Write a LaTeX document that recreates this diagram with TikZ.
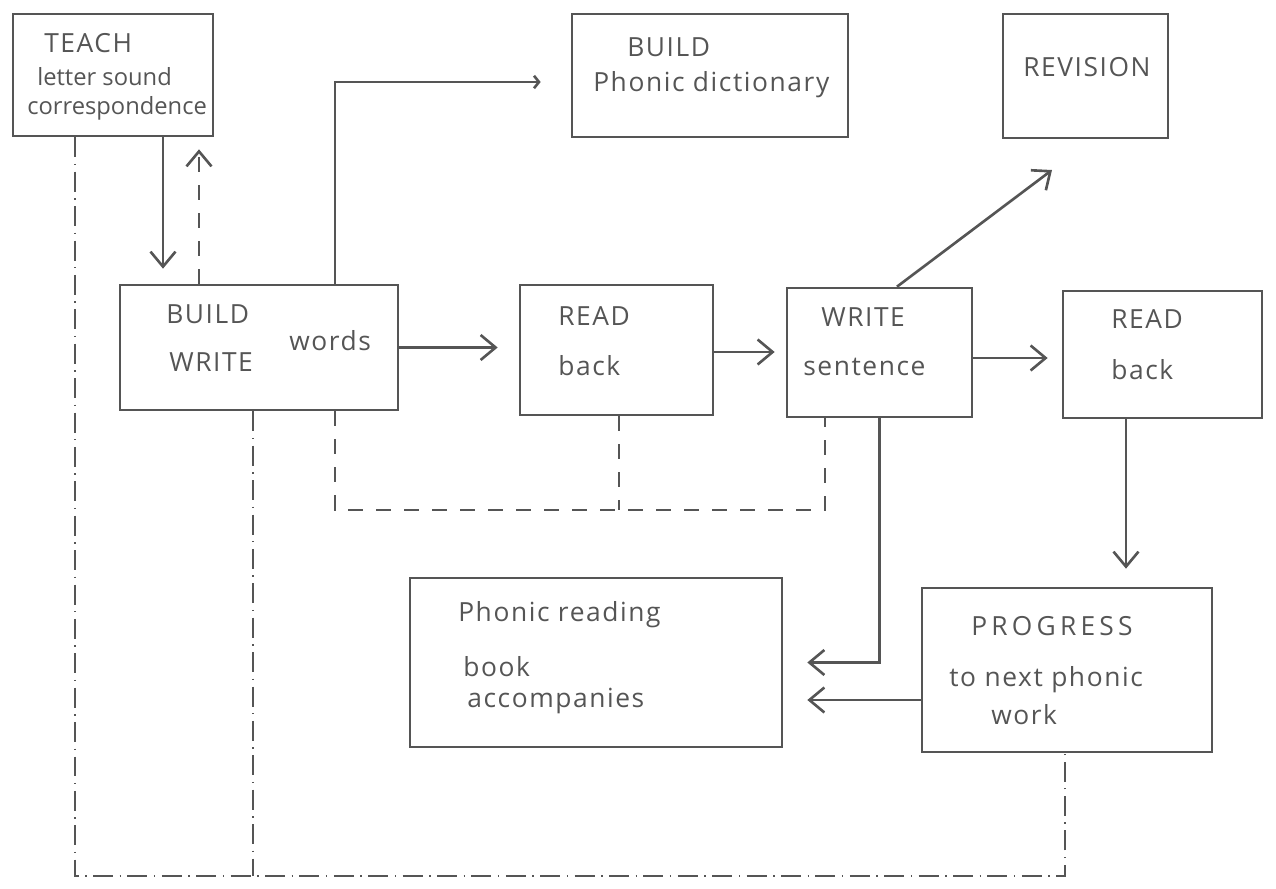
\documentclass[tikz,border=0pt]{standalone}
\usepackage{fontspec}
\setmainfont{Open Sans}[LetterSpace=6]
\newfontfamily\tight{Open Sans}
\newfontfamily\wide{Open Sans}[LetterSpace=16]
\usetikzlibrary{arrows.meta}
\definecolor{pen}{HTML}{555555}

\begin{document}
\begin{tikzpicture}[x=0.02cm,y=-0.02cm,
  line width=1.5pt, draw=pen, text=pen,
  every node/.style={font=\fontsize{15}{18}\selectfont, inner sep=0pt},
  box/.style 2 args={draw=pen, minimum width=#1*0.02cm, minimum height=#2*0.02cm},
  txt/.style={anchor=west},
  arr/.style={-{Straight Barb[length=3mm,width=5mm]}},
  fb/.style={dash pattern=on 3mm off 2.6mm},
  ddot/.style={dash pattern=on 4mm off 1.3mm on 0.8pt off 1.3mm}]
\useasboundingbox (0,0) rectangle (1276,889);
% boxes
\node[box={200}{122}] (teach) at (113,75)    {};
\node[box={276}{123}] (dict)  at (710,75.5)  {};
\node[box={165}{124}] (rev)   at (1085.5,76) {};
\node[box={278}{125}] (words) at (259,347.5) {};
\node[box={193}{130}] (read1) at (616.5,350) {};
\node[box={185}{129}] (sent)  at (879.5,352.5) {};
\node[box={199}{127}] (read2) at (1162.5,354.5) {};
\node[box={372}{169}] (book)  at (596,662.5) {};
\node[box={290}{164}] (prog)  at (1067,670)  {};
% texts
\node[txt] (t1) at (43,43)   {TEACH};
\node[txt, font=\tight\fontsize{13.5}{15}\selectfont] (t2) at (36,77) {letter sound};
\node[txt, font=\tight\fontsize{13.5}{15}\selectfont] (t3) at (26,108) {correspondence};
\node[txt] (d1) at (626,47)  {BUILD};
\node[txt] (d2) at (592,85)  {Phonic dictionary};
\node[txt] (r1) at (1022,67) {REVISION};
\node[txt] (w1) at (165,314) {BUILD};
\node[txt] (w2) at (168,362) {WRITE};
\node[txt] (w3) at (288,341) {words};
\node[txt] (a1) at (557,316) {READ};
\node[txt] (a2) at (557,366) {back};
\node[txt] (s1) at (820,317) {WRITE};
\node[txt] (s2) at (802,367) {sentence};
\node[txt] (b1) at (1110,319) {READ};
\node[txt] (b2) at (1110,370) {back};
\node[txt] (k1) at (457,615) {Phonic reading};
\node[txt] (k2) at (462,667) {book};
\node[txt] (k3) at (466,701) {accompanies};
\node[txt, font=\wide\fontsize{15}{18}\selectfont] (p1) at (970,626) {PROGRESS};
\node[txt] (p2) at (948,680) {to next phonic};
\node[txt] (p3) at (990,715) {work};
% connectors
\coordinate (revtip) at (1052,170);
\coordinate (fbl) at (335,510);
\coordinate (fbr) at (825,510);
\coordinate (bl)  at (75,876);
\draw[arr, shorten >=0.3cm] (teach.south -| 163,0) -- (words.north -| 163,0);
\draw[arr, fb, shorten >=0.24cm] (words.north -| 199,0) -- (teach.south -| 199,0);
\draw[-{Straight Barb[length=1mm,width=2.5mm]}, shorten >=0.6cm]
  (words.north -| 335,0) |- (dict.west |- 0,82);
\draw[arr, shorten >=0.42cm] (words.east) -- (words.east -| read1.west);
\draw[arr, shorten >=0.22cm] (read1.east |- 0,352) -- (sent.west |- 0,352);
\draw[arr, shorten >=0.28cm] (sent.east |- 0,358) -- (read2.west |- 0,358);
\draw[arr] (sent.north -| 897,0) -- (revtip);
\draw[fb] (words.south -| fbl) -- (fbl) -- (fbr) -- (sent.south -| fbr);
\draw[fb] (read1.south -| 619,0) -- (fbl -| 619,0);
\draw[arr, shorten >=0.48cm] (sent.south) |- (book.east);
\draw[arr, shorten >=0.48cm] (prog.west |- 0,700) -- (book.east |- 0,700);
\draw[arr, shorten >=0.36cm] (read2.south -| 1126,0) -- (prog.north -| 1126,0);
\draw[ddot] (teach.south -| bl) -- (bl) -| (prog.south -| 1065,0);
\draw[ddot] (words.south -| 253,0) -- (bl -| 253,0);
\end{tikzpicture}
\end{document}
